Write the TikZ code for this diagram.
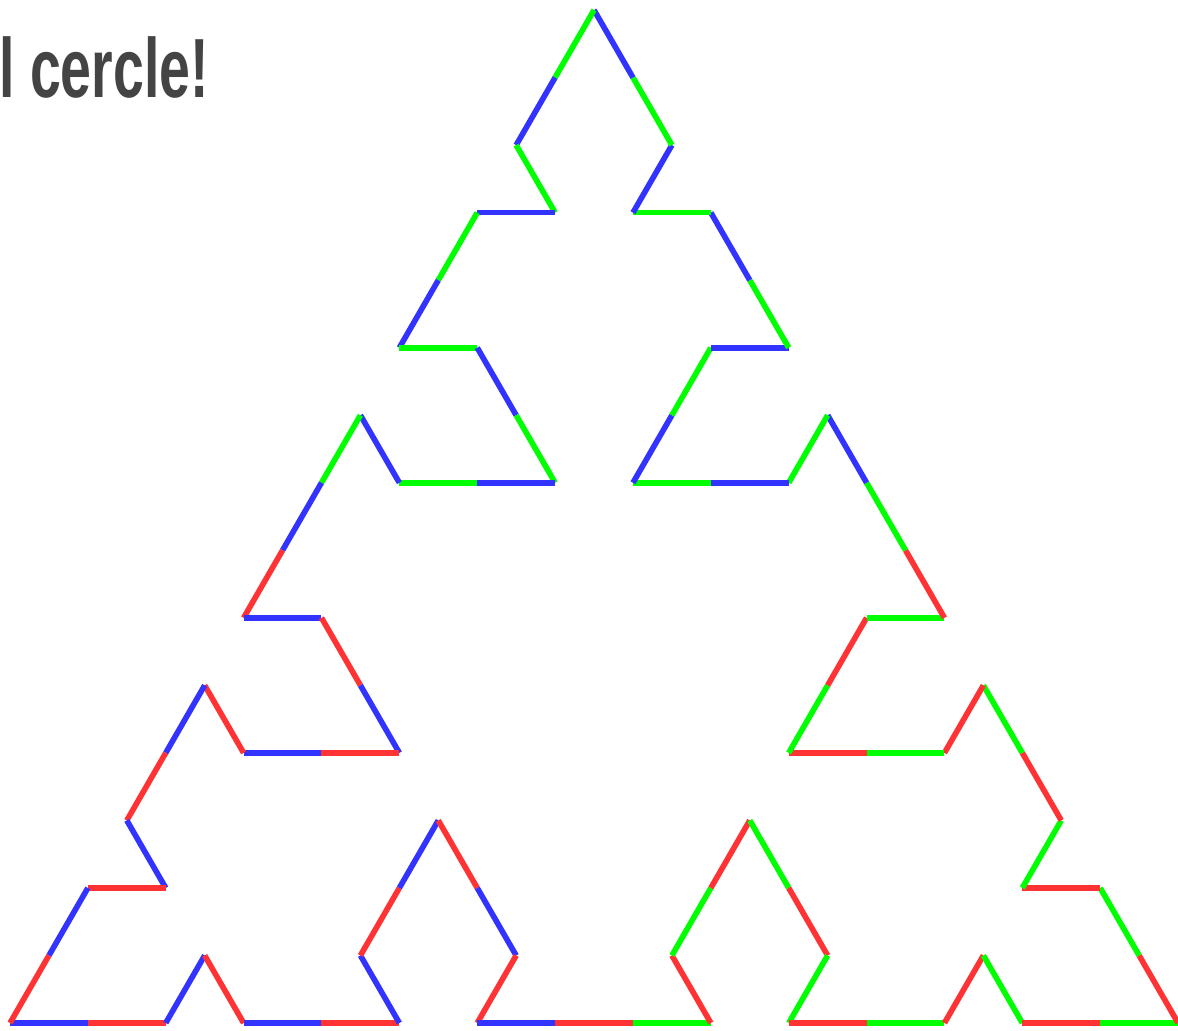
\documentclass[tikz,border=0pt]{standalone}
\usepackage{fontspec}
\setmainfont{Liberation Sans}
\usetikzlibrary{positioning}
\definecolor{cred}{RGB}{255,51,51}
\definecolor{cgreen}{RGB}{0,255,0}
\definecolor{cblue}{RGB}{51,51,255}
\definecolor{ink}{RGB}{68,68,68}
\tikzset{
  seg/.style={draw=#1,line width=3.2pt,line cap=butt},
  seg/.default=cred,
  title/.style={font=\fontsize{47.8}{50}\selectfont\bfseries,text=ink,inner sep=0pt,anchor=base west},
}
\begin{document}
\begin{tikzpicture}
  \useasboundingbox (-0.2,-0.14) rectangle (23.36,20.46);
  \node[title] (head) at (-0.22,18.51) {\scalebox{0.66}[1]{l cercle!}};
  % closed arrowhead curve, one segment per step
  \begin{scope}[x=0.7787cm,y=1.3506cm]
    \foreach \x/\y/\c [remember=\x as \lx (initially 0), remember=\y as \ly (initially 0)] in {
      2/0/cblue, 4/0/cred, 5/1/cblue, 6/0/cred, 8/0/cblue, 10/0/cred, 9/1/cblue, 10/2/cred,
      11/3/cblue, 12/2/cred, 13/1/cblue, 12/0/cred, 14/0/cblue, 16/0/cred, 18/0/cgreen,
      17/1/cred, 18/2/cgreen, 19/3/cred, 20/2/cgreen, 21/1/cred, 20/0/cgreen, 22/0/cred,
      24/0/cgreen, 25/1/cred, 26/0/cgreen, 28/0/cred, 30/0/cgreen,
      29/1/cred, 28/2/cgreen, 26/2/cred, 27/3/cgreen, 26/4/cred, 25/5/cgreen, 24/4/cred,
      22/4/cgreen, 20/4/cred, 21/5/cgreen, 22/6/cred, 24/6/cgreen, 23/7/cred, 22/8/cgreen,
      21/9/cblue, 20/8/cgreen, 18/8/cblue, 16/8/cgreen, 17/9/cblue, 18/10/cgreen, 20/10/cblue,
      19/11/cgreen, 18/12/cblue, 16/12/cgreen, 17/13/cblue, 16/14/cgreen, 15/15/cblue,
      14/14/cgreen, 13/13/cblue, 14/12/cgreen, 12/12/cblue, 11/11/cgreen, 10/10/cblue,
      12/10/cgreen, 13/9/cblue, 14/8/cgreen, 12/8/cblue, 10/8/cgreen, 9/9/cblue, 8/8/cgreen,
      7/7/cblue, 6/6/cred, 8/6/cblue, 9/5/cred, 10/4/cblue, 8/4/cred, 6/4/cblue, 5/5/cred,
      4/4/cblue, 3/3/cred, 4/2/cblue, 2/2/cred, 1/1/cblue, 0/0/cred}
      \draw[seg=\c] (\lx,\ly) -- (\x,\y);
  \end{scope}
\end{tikzpicture}
\end{document}
